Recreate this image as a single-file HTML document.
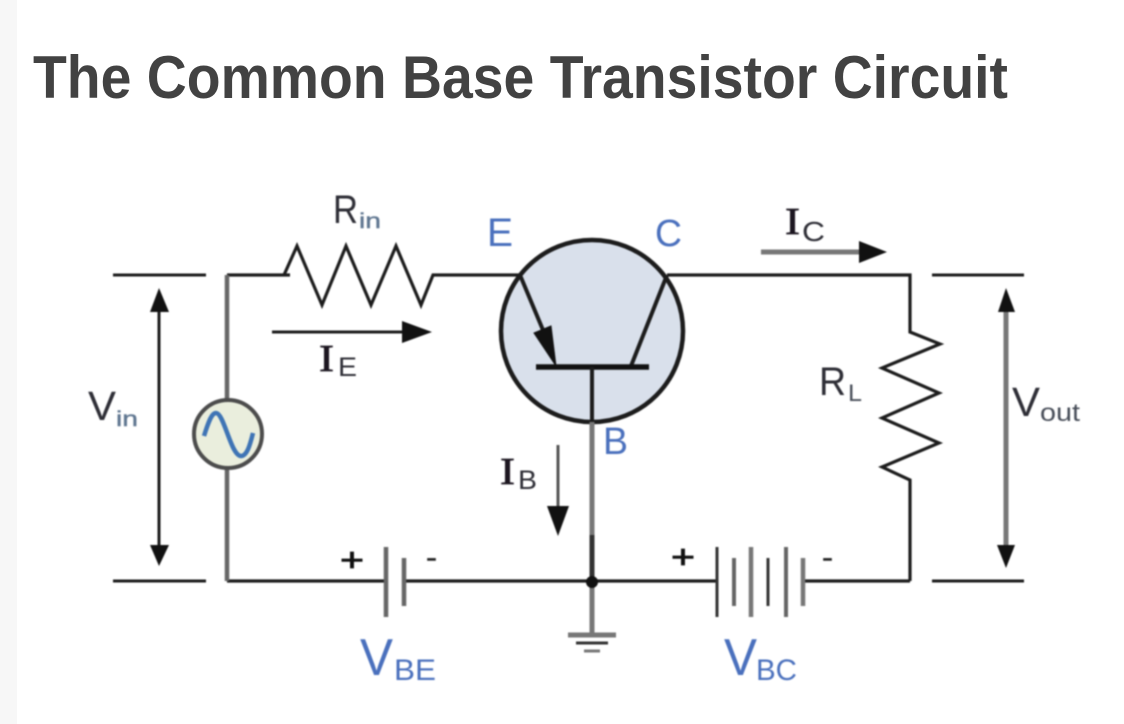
<!DOCTYPE html>
<html>
<head>
<meta charset="utf-8">
<style>
html,body{margin:0;padding:0;background:#fff;width:1124px;height:724px;overflow:hidden}
svg{display:block;position:absolute;left:0;top:0}
.d{filter:blur(.7px)}
text{font-family:"Liberation Sans",sans-serif}
.k{fill:#2e2e36}
.b{fill:#4a70bd}
.s{fill:#5f7690;stroke:#5f7690;stroke-width:.4}
.ser{font-family:"Liberation Serif",serif;fill:#1c1620;stroke:#1c1620;stroke-width:.7}
</style>
</head>
<body>
<svg width="1124" height="724" viewBox="0 0 1124 724" xmlns="http://www.w3.org/2000/svg">
<rect width="1124" height="724" fill="#fff"/>
<rect width="17" height="724" fill="#f7f7f7"/>
<text x="33" y="98" font-size="60" font-weight="700" fill="#424242" textLength="975" lengthAdjust="spacingAndGlyphs">The Common Base Transistor Circuit</text>
<g class="d">
<circle cx="592" cy="331" r="91" fill="#d9e0eb" stroke="#1c1c1c" stroke-width="4.5"/>
<g fill="none" stroke="#1c1c1c" stroke-width="3">
<path d="M113 275H206M932 275H1024M113 581H206M932 581H1024"/>
<path d="M284 275L297 246L322 305L346 246L371 305L396 246L421 305L433 275H520" stroke-width="3.2"/>
<path d="M667 275H910V332L940 344L882 368L939 393L882 418L939 443L882 467L910 480V581" stroke-width="3.2"/>
<path d="M227 581H386M404 581H592H716M803 581H910" stroke-width="3.2"/>
<path d="M227 275H290" stroke-width="3.2"/>
</g>
<path d="M227 275V400M227 468V581" fill="none" stroke="#666" stroke-width="4.5"/>
<circle cx="228" cy="434" r="34" fill="#eaeedd" stroke="#4c4c4c" stroke-width="4"/>
<path d="M204 436C209 420 212 413 216 413C224 413 231 456 241 456C247 456 250 445 253 433" fill="none" stroke="#3f74b5" stroke-width="4.5"/>
<path d="M520 275L553 354" stroke="#1c1c1c" stroke-width="4"/>
<path d="M556 366L534 333L551 326Z" fill="#111" stroke="#111"/>
<path d="M667 275L631 366" stroke="#1c1c1c" stroke-width="4"/>
<path d="M536 367H649" stroke="#111" stroke-width="5.5"/>
<path d="M592 367V422" stroke="#1c1c1c" stroke-width="4"/>
<path d="M592 422V535M592 585V634" stroke="#777" stroke-width="5"/>
<path d="M592 535V582" stroke="#333" stroke-width="5"/>
<circle cx="592" cy="582" r="6" fill="#111"/>
<path d="M568 635H616" stroke="#777" stroke-width="5"/>
<path d="M576 643H608" stroke="#333" stroke-width="3"/>
<path d="M584 651H600" stroke="#777" stroke-width="3"/>
<path d="M272 332H405" stroke="#1c1c1c" stroke-width="3"/>
<path d="M432 332L402 321V343Z" fill="#111"/>
<path d="M761 252H862" stroke="#777" stroke-width="5"/>
<path d="M887 252L859 241V263Z" fill="#111"/>
<path d="M558 445V510" stroke="#555" stroke-width="3"/>
<path d="M558 536L547 506H569Z" fill="#111"/>
<path d="M159 312V547" stroke="#1c1c1c" stroke-width="3"/>
<path d="M159 288L150 312H169Z" fill="#111"/>
<path d="M159 566L150 545H169Z" fill="#111"/>
<path d="M1006 312V547" stroke="#777" stroke-width="5"/>
<path d="M1006 288L998 312H1015Z" fill="#111"/>
<path d="M1006 568L997 545H1015Z" fill="#111"/>
<path d="M386 547V617" stroke="#666" stroke-width="4.5"/>
<path d="M404 558V606" stroke="#666" stroke-width="4.5"/>
<path d="M717 547V617" stroke="#333" stroke-width="3"/>
<path d="M734 558V606" stroke="#666" stroke-width="4"/>
<path d="M751 547V617" stroke="#777" stroke-width="4.5"/>
<path d="M768 558V606" stroke="#333" stroke-width="3"/>
<path d="M786 547V617" stroke="#666" stroke-width="4"/>
<path d="M803 558V606" stroke="#777" stroke-width="4.5"/>
<text x="333" y="223" font-size="40" class="k" textLength="25" lengthAdjust="spacingAndGlyphs">R</text>
<text x="359" y="228" font-size="21" class="s" textLength="22" lengthAdjust="spacingAndGlyphs">in</text>
<text x="487" y="246" font-size="40" class="b" textLength="26" lengthAdjust="spacingAndGlyphs">E</text>
<text x="655" y="246" font-size="38" class="b" textLength="27" lengthAdjust="spacingAndGlyphs">C</text>
<text x="603" y="454" font-size="38" class="b" textLength="25" lengthAdjust="spacingAndGlyphs">B</text>
<text x="785" y="234" font-size="38" class="ser" textLength="15" lengthAdjust="spacingAndGlyphs">I</text>
<text x="802" y="241" font-size="28" class="k" textLength="23" lengthAdjust="spacingAndGlyphs">C</text>
<text x="319" y="371" font-size="38" class="ser" textLength="15" lengthAdjust="spacingAndGlyphs">I</text>
<text x="338" y="376" font-size="27" class="k" textLength="19" lengthAdjust="spacingAndGlyphs">E</text>
<text x="500" y="484" font-size="38" class="ser" textLength="15" lengthAdjust="spacingAndGlyphs">I</text>
<text x="518" y="489" font-size="27" class="k" textLength="19" lengthAdjust="spacingAndGlyphs">B</text>
<text x="88" y="420" font-size="41" class="k" textLength="28" lengthAdjust="spacingAndGlyphs">V</text>
<text x="116" y="426" font-size="21" class="s" textLength="22" lengthAdjust="spacingAndGlyphs">in</text>
<text x="1012" y="416" font-size="41" class="k" textLength="28" lengthAdjust="spacingAndGlyphs">V</text>
<text x="1040" y="421" font-size="25" fill="#474d58" textLength="40" lengthAdjust="spacingAndGlyphs">out</text>
<text x="819" y="395" font-size="40" class="k" textLength="27" lengthAdjust="spacingAndGlyphs">R</text>
<text x="848" y="401" font-size="24" fill="#474d58" textLength="14" lengthAdjust="spacingAndGlyphs">L</text>
<text x="360" y="675" font-size="52" class="b" textLength="33" lengthAdjust="spacingAndGlyphs">V</text>
<text x="394" y="680" font-size="30" class="b" textLength="42" lengthAdjust="spacingAndGlyphs">BE</text>
<text x="724" y="675" font-size="52" class="b" textLength="33" lengthAdjust="spacingAndGlyphs">V</text>
<text x="756" y="680" font-size="30" class="b" textLength="41" lengthAdjust="spacingAndGlyphs">BC</text>
<text x="340" y="571" font-size="32" fill="#111" stroke="#111" stroke-width=".8" textLength="24" lengthAdjust="spacingAndGlyphs">+</text>
<text x="671" y="568" font-size="32" fill="#111" stroke="#111" stroke-width=".8" textLength="24" lengthAdjust="spacingAndGlyphs">+</text>
<text x="426" y="567" font-size="28" fill="#222" stroke="#222" stroke-width=".5" textLength="11" lengthAdjust="spacingAndGlyphs">-</text>
<text x="822" y="567" font-size="28" fill="#222" stroke="#222" stroke-width=".5" textLength="11" lengthAdjust="spacingAndGlyphs">-</text>
</g>
</svg>
</body>
</html>
